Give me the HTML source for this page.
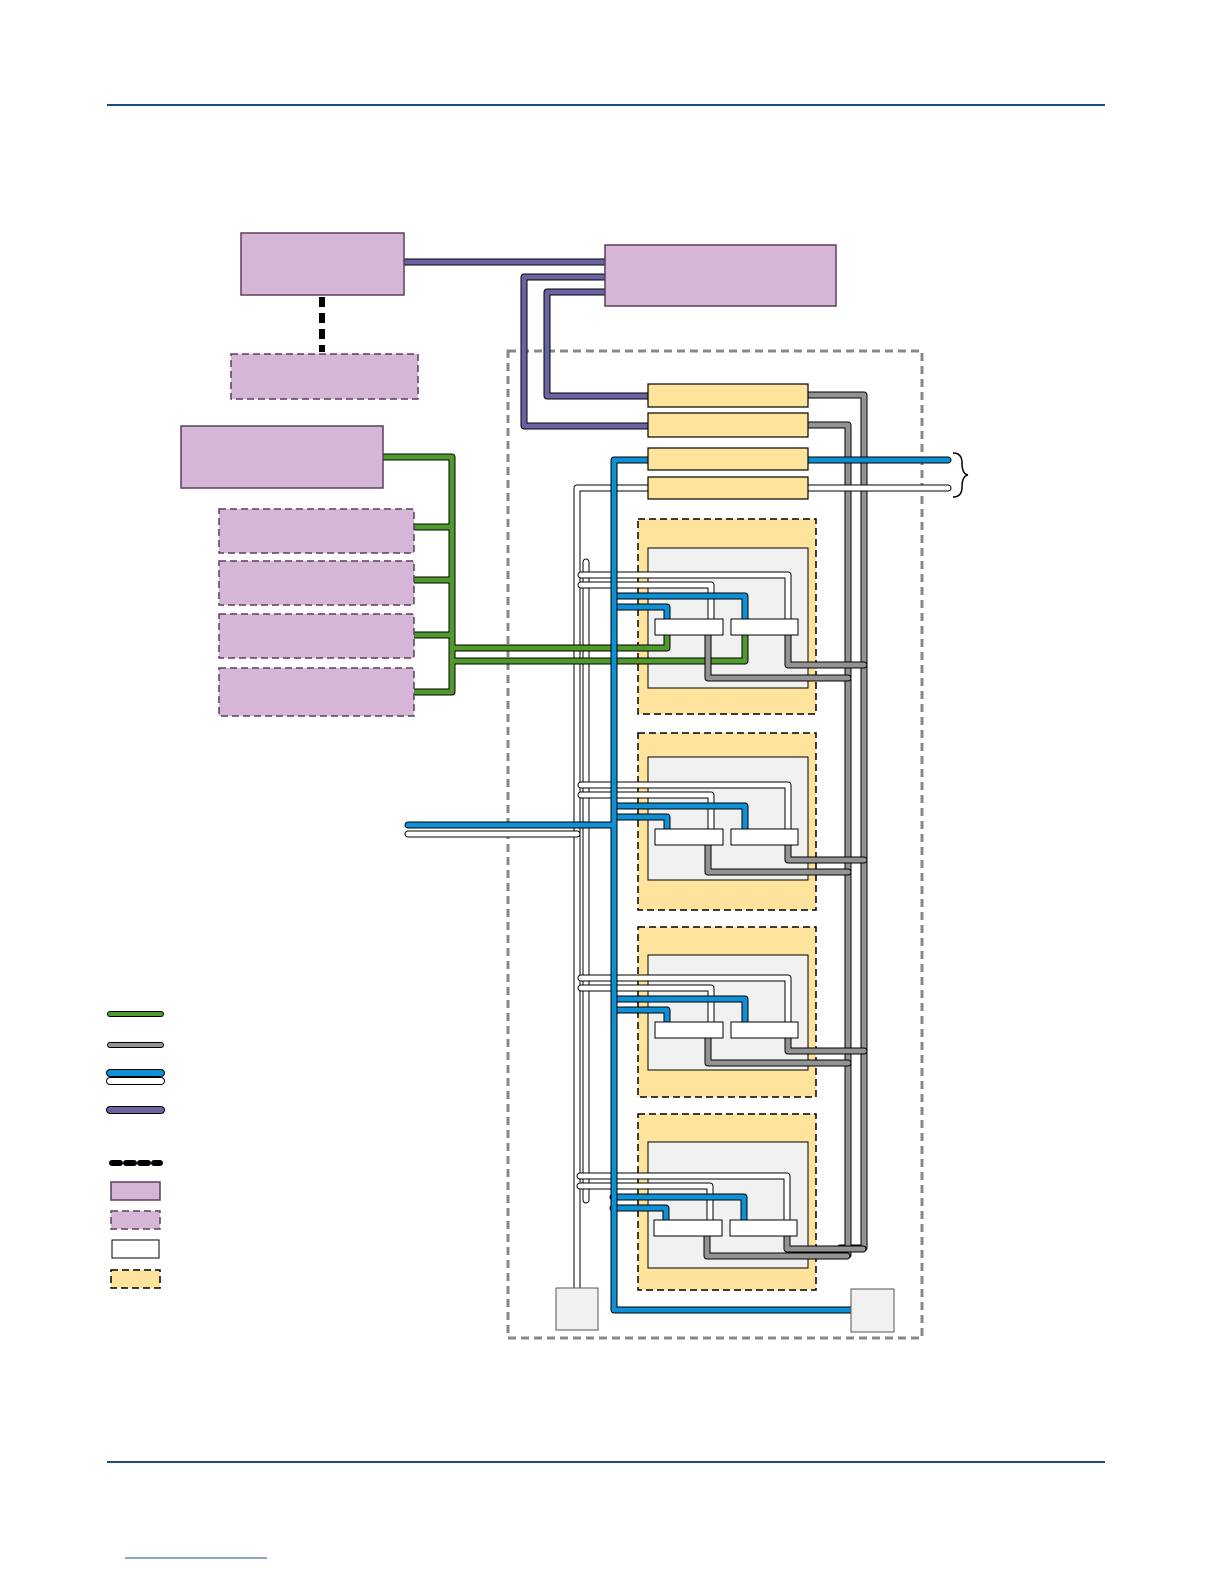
<!DOCTYPE html>
<html><head><meta charset="utf-8"><style>
html,body{margin:0;padding:0;background:#fff;overflow:hidden;width:1224px;height:1584px}
svg{display:block}
.o{fill:none;stroke:#000;stroke-width:7;stroke-linejoin:round;stroke-linecap:round}
.g{fill:none;stroke:#4f9a2d;stroke-width:5;stroke-linejoin:round;stroke-linecap:round}
.y{fill:none;stroke:#939393;stroke-width:5;stroke-linejoin:round;stroke-linecap:round}
.b{fill:none;stroke:#0e8fd6;stroke-width:5;stroke-linejoin:round;stroke-linecap:round}
.w{fill:none;stroke:#fff;stroke-width:5;stroke-linejoin:round;stroke-linecap:round}
.p{fill:none;stroke:#6a63a3;stroke-width:5;stroke-linejoin:round;stroke-linecap:round}
.ps{fill:#d5b6d7;stroke:#5b3f5c;stroke-width:1.5}
.pd{fill:#d5b6d7;stroke:#5b3f5c;stroke-width:1.5;stroke-dasharray:7 4}
.yb{fill:#fde39c;stroke:#000;stroke-width:1.2}
.yd{fill:#fde39c;stroke:#000;stroke-width:1.5;stroke-dasharray:7 4}
.gi{fill:#f1f1f1;stroke:#000;stroke-width:1}
.ch{fill:#fff;stroke:#000;stroke-width:1}
</style></head><body>
<svg width="1224" height="1584" viewBox="0 0 1224 1584" xmlns="http://www.w3.org/2000/svg">
<line x1="107" y1="105" x2="1105" y2="105" stroke="#1f4e79" stroke-width="2"/>
<line x1="107" y1="1462" x2="1105" y2="1462" stroke="#1f4e79" stroke-width="2"/>
<line x1="125" y1="1558" x2="267" y2="1558" stroke="#1f4e79" stroke-width="1"/>

<rect x="508" y="351" width="414" height="987" fill="none" stroke="#888" stroke-width="3" stroke-dasharray="8 5"/>

<path class="o" d="M404 262 H605"/><path class="p" d="M404 262 H605"/>
<path class="o" d="M605 277 H524 V426 H648"/><path class="p" d="M605 277 H524 V426 H648"/>
<path class="o" d="M605 292 H547 V396 H648"/><path class="p" d="M605 292 H547 V396 H648"/>
<line x1="322" y1="297" x2="322" y2="352" stroke="#000" stroke-width="6" stroke-dasharray="10 6"/>

<path class="o" d="M808 395 H864 V1248 H840 M808 425 H848 V1255 H830"/>
<path class="y" d="M808 395 H864 V1248 H840 M808 425 H848 V1255 H830"/>

<rect class="yd" x="638" y="519" width="178" height="195"/><rect class="gi" x="648" y="548" width="160" height="140"/>
<rect class="yd" x="638" y="733" width="178" height="177"/><rect class="gi" x="648" y="757" width="160" height="123"/>
<rect class="yd" x="638" y="927" width="178" height="170"/><rect class="gi" x="648" y="955" width="160" height="115"/>
<rect class="yd" x="638" y="1114" width="178" height="176"/><rect class="gi" x="648" y="1142" width="160" height="126"/>

<path class="o" d="M648 488 H577 V1288 M586 562 V1200"/>
<path class="w" d="M648 488 H577 V1288 M586 562 V1200"/>
<path class="o" d="M808 488 H948"/><path class="w" d="M808 488 H948"/>
<path class="o" d="M408 834 H577"/><path class="w" d="M408 834 H577"/>

<path class="o" d="M383 457 H452 V692 H414 M452 527 H414 M452 580 H414 M452 635 H414 M452 648 H667 V635 M452 661 H745 V635"/>
<path class="g" d="M383 457 H452 V692 H414 M452 527 H414 M452 580 H414 M452 635 H414 M452 648 H667 V635 M452 661 H745 V635"/>

<g>
<path class="o" d="M581 575 H788 V619 M581 585 H711 V619"/>
<path class="w" d="M581 575 H788 V619 M581 585 H711 V619"/>
<path class="o" d="M708 635 V678 H848 M788 635 V665 H864"/>
<path class="y" d="M708 635 V678 H848 M788 635 V665 H864"/>
<path class="o" d="M614 596 H745 V619 M614 607 H667 V619"/>
<path class="b" d="M614 596 H745 V619 M614 607 H667 V619"/>
<rect class="ch" x="655" y="619" width="68" height="16"/><rect class="ch" x="731" y="619" width="67" height="16"/>
</g>
<g transform="translate(0,210)">
<path class="o" d="M581 575 H788 V619 M581 585 H711 V619"/><path class="w" d="M581 575 H788 V619 M581 585 H711 V619"/>
<path class="o" d="M708 635 V662 H848 M788 635 V650 H864"/><path class="y" d="M708 635 V662 H848 M788 635 V650 H864"/>
<path class="o" d="M614 596 H745 V619 M614 607 H667 V619"/><path class="b" d="M614 596 H745 V619 M614 607 H667 V619"/>
<rect class="ch" x="655" y="619" width="68" height="16"/><rect class="ch" x="731" y="619" width="67" height="16"/>
</g>
<g transform="translate(0,403)">
<path class="o" d="M581 575 H788 V619 M581 585 H711 V619"/><path class="w" d="M581 575 H788 V619 M581 585 H711 V619"/>
<path class="o" d="M708 635 V660 H848 M788 635 V648 H864"/><path class="y" d="M708 635 V660 H848 M788 635 V648 H864"/>
<path class="o" d="M614 596 H745 V619 M614 607 H667 V619"/><path class="b" d="M614 596 H745 V619 M614 607 H667 V619"/>
<rect class="ch" x="655" y="619" width="68" height="16"/><rect class="ch" x="731" y="619" width="67" height="16"/>
</g>
<g transform="translate(-1,601)">
<path class="o" d="M581 575 H788 V619 M581 585 H711 V619"/><path class="w" d="M581 575 H788 V619 M581 585 H711 V619"/>
<path class="o" d="M708 635 V655 H848 M788 635 V648 H864"/><path class="y" d="M708 635 V655 H848 M788 635 V648 H864"/>
<path class="o" d="M614 596 H745 V619 M614 607 H667 V619"/><path class="b" d="M614 596 H745 V619 M614 607 H667 V619"/>
<rect class="ch" x="655" y="619" width="68" height="16"/><rect class="ch" x="731" y="619" width="67" height="16"/>
</g>

<path class="o" d="M648 460 H614 V1310 H851 M408 825 H614"/>
<path class="b" d="M648 460 H614 V1310 H851 M408 825 H614"/>
<path class="o" d="M808 460 H948"/><path class="b" d="M808 460 H948"/>
<path d="M953 453 Q962 453 962 463 Q962 474 968 475 Q962 476 962 487 Q962 497 953 497" fill="none" stroke="#000" stroke-width="1.5"/>

<rect class="yb" x="648" y="384" width="160" height="23"/>
<rect class="yb" x="648" y="413" width="160" height="24"/>
<rect class="yb" x="648" y="448" width="160" height="22"/>
<rect class="yb" x="648" y="477" width="160" height="22"/>

<rect x="556" y="1288" width="42" height="42" fill="#f1f1f1" stroke="#555" stroke-width="1"/>
<rect x="851" y="1289" width="43" height="43" fill="#f1f1f1" stroke="#555" stroke-width="1"/>

<rect class="ps" x="241" y="233" width="163" height="62"/>
<rect class="ps" x="605" y="245" width="231" height="61"/>
<rect class="pd" x="231" y="354" width="187" height="45"/>
<rect class="ps" x="181" y="426" width="202" height="62"/>
<rect class="pd" x="219" y="509" width="195" height="44"/>
<rect class="pd" x="219" y="561" width="195" height="44"/>
<rect class="pd" x="219" y="614" width="195" height="44"/>
<rect class="pd" x="219" y="668" width="195" height="48"/>

<path class="o" d="M110 1014 H161" style="stroke-width:6"/><path class="g" d="M110 1014 H161" style="stroke-width:4"/>
<path class="o" d="M110 1045 H161" style="stroke-width:6"/><path class="y" d="M110 1045 H161" style="stroke-width:4"/>
<path class="o" d="M110 1073 H161" style="stroke-width:8"/><path class="b" d="M110 1073 H161" style="stroke-width:6"/>
<path class="o" d="M110 1081 H161" style="stroke-width:8"/><path class="w" d="M110 1081 H161" style="stroke-width:6"/>
<path class="o" d="M110 1110 H161" style="stroke-width:8"/><path class="p" d="M110 1110 H161" style="stroke-width:6"/>
<line x1="112" y1="1163" x2="160" y2="1163" stroke="#000" stroke-width="6" stroke-linecap="round" stroke-dasharray="8 6"/>
<rect class="ps" x="111" y="1182" width="49" height="18"/>
<rect class="pd" x="111" y="1211" width="49" height="18"/>
<rect x="112" y="1240" width="47" height="18" fill="#fff" stroke="#000" stroke-width="1"/>
<rect class="yd" x="111" y="1270" width="49" height="18"/>
</svg>
</body></html>
